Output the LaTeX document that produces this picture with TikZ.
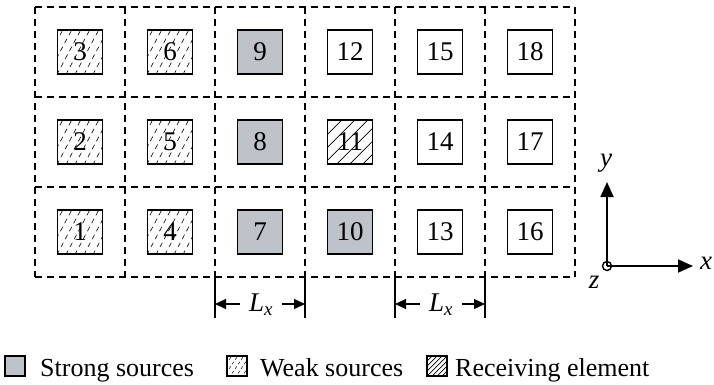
\documentclass[tikz,border=0pt]{standalone}
\usepackage{fontspec}
\setmainfont{Liberation Serif}
\usetikzlibrary{arrows.meta}
\definecolor{strongfill}{RGB}{190,194,201}

\begin{document}
\begin{tikzpicture}[x=1pt,y=-1pt,
  font=\fontsize{27}{32}\selectfont,
  gridline/.style={dash pattern=on 7pt off 5pt, line width=1.3pt},
  elem/.style={draw, line width=1.3pt, minimum width=45pt, minimum height=44pt, inner sep=0pt, fill=white},
  strong/.style={elem, fill=strongfill},
  weak/.style={elem, path picture={
      \begin{scope}[shift={(path picture bounding box.center)}]
        \foreach \k in {-45,-36,...,45}
          \draw[line width=0.6pt, dash pattern=on 5pt off 4pt] (\k-16,30) -- (\k+16,-30);
      \end{scope}}},
  recv/.style={elem, path picture={
      \begin{scope}[shift={(path picture bounding box.center)}]
        \foreach \k in {-52,-39,...,52}
          \draw[line width=0.8pt] (\k-30,30) -- (\k+30,-30);
      \end{scope}}},
  keybox/.style={draw, line width=1.1pt, minimum size=20pt, inner sep=0pt, fill=white},
  keystrong/.style={keybox, fill=strongfill},
  keyweak/.style={keybox, path picture={
      \begin{scope}[shift={(path picture bounding box.center)}]
        \foreach \k in {-12,-6,...,12}
          \draw[line width=0.5pt, dash pattern=on 3pt off 2.5pt] (\k-8,12) -- (\k+8,-12);
      \end{scope}}},
  keyrecv/.style={keybox, path picture={
      \begin{scope}[shift={(path picture bounding box.center)}]
        \foreach \k in {-15,-10,...,15}
          \draw[line width=0.7pt] (\k-12,12) -- (\k+12,-12);
      \end{scope}}},
  keytext/.style={anchor=base west, inner sep=0pt, font=\fontsize{26}{31}\selectfont},
  dimtick/.style={line width=1.2pt},
  dimarrow/.style={line width=1.2pt, -{Triangle[length=11pt,width=10pt]}},
  axis/.style={line width=1.8pt, -{Triangle[length=15pt,width=13pt]}},
  axlabel/.style={font=\fontsize{27}{32}\selectfont\itshape, inner sep=0pt}
]
\useasboundingbox (0,0) rectangle (714,384);

% dashed cell grid: 6 columns by 3 rows of 90pt cells
\foreach \y in {7,97,187,277}
  \draw[gridline] (35,\y) -- (575,\y);
\foreach \x in {35,125,...,575}
  \draw[gridline] (\x,7) -- (\x,277);

% elements, numbered column by column from the bottom
\node[weak]   (b1)  at (80,232)  {1};
\node[weak]   (b2)  at (80,142)  {2};
\node[weak]   (b3)  at (80,52)   {3};
\node[weak]   (b4)  at (170,232) {4};
\node[weak]   (b5)  at (170,142) {5};
\node[weak]   (b6)  at (170,52)  {6};
\node[strong] (b7)  at (260,232) {7};
\node[strong] (b8)  at (260,142) {8};
\node[strong] (b9)  at (260,52)  {9};
\node[strong] (b10) at (350,232) {10};
\node[recv]   (b11) at (350,142) {11};
\node[elem]   (b12) at (350,52)  {12};
\node[elem]   (b13) at (440,232) {13};
\node[elem]   (b14) at (440,142) {14};
\node[elem]   (b15) at (440,52)  {15};
\node[elem]   (b16) at (530,232) {16};
\node[elem]   (b17) at (530,142) {17};
\node[elem]   (b18) at (530,52)  {18};

% cell pitch dimensions
\coordinate (t1a) at (215,277); \coordinate (t1b) at (215,318);
\coordinate (t2a) at (305,277); \coordinate (t2b) at (305,318);
\coordinate (t3a) at (395,277); \coordinate (t3b) at (395,318);
\coordinate (t4a) at (485,277); \coordinate (t4b) at (485,318);
\draw[dimtick] (t1a) -- (t1b);
\draw[dimtick] (t2a) -- (t2b);
\draw[dimtick] (t3a) -- (t3b);
\draw[dimtick] (t4a) -- (t4b);
\coordinate (d1l) at (215,304); \coordinate (d1r) at (305,304);
\coordinate (d2l) at (395,304); \coordinate (d2r) at (485,304);
\node[inner xsep=9pt, inner ysep=0pt] (lx1) at (261,305) {\textit{L}\textsubscript{\textit{x}}};
\node[inner xsep=9pt, inner ysep=0pt] (lx2) at (441,305) {\textit{L}\textsubscript{\textit{x}}};
\draw[dimarrow] (lx1.west |- d1l) -- (d1l);
\draw[dimarrow] (lx1.east |- d1r) -- (d1r);
\draw[dimarrow] (lx2.west |- d2l) -- (d2l);
\draw[dimarrow] (lx2.east |- d2r) -- (d2r);

% coordinate axes, z pointing out of the page
\coordinate (O) at (607,266);
\coordinate (Y) at (607,182);
\coordinate (X) at (693,266);
\draw[axis] (O) -- (Y);
\draw[axis] (O) -- (X);
\draw[line width=1.4pt] (O) circle[radius=4.5pt];
\node[axlabel] (ly) at (606,163) {y};
\node[axlabel] (lxx) at (706,263) {x};
\node[axlabel] (lz) at (594,282) {z};

% key
\node[keystrong] (k1) at (15,366) {};
\node[keytext]   (k1t) at (40,376) {Strong sources};
\node[keyweak]   (k2) at (237,366) {};
\node[keytext]   (k2t) at (260,376) {Weak sources};
\node[keyrecv]   (k3) at (437,366) {};
\node[keytext]   (k3t) at (455,376) {Receiving element};
\end{tikzpicture}
\end{document}
